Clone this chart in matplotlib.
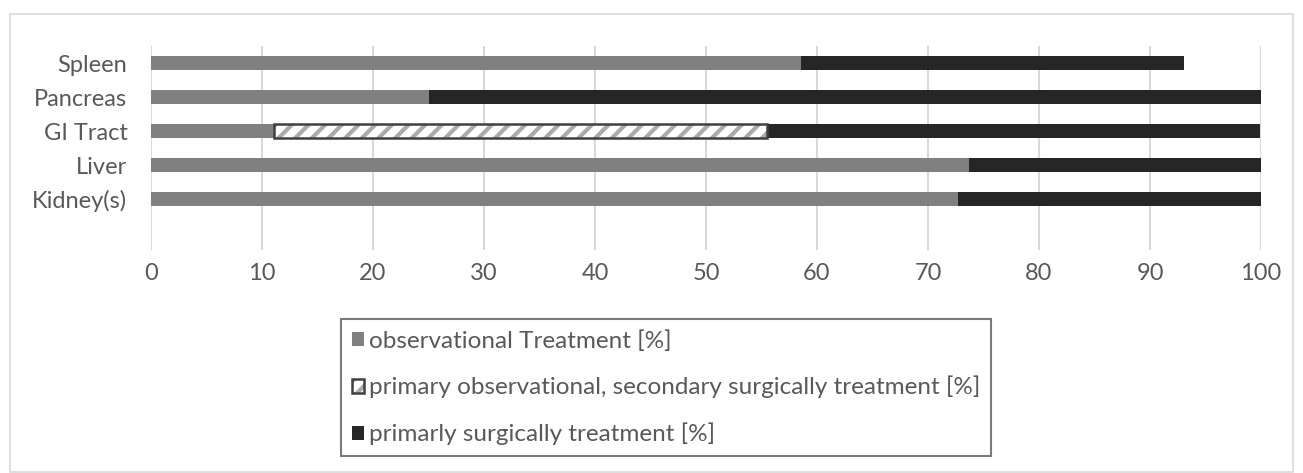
import matplotlib
matplotlib.use("Agg")
import matplotlib.pyplot as plt
from matplotlib.patches import Rectangle, Patch
from matplotlib.legend_handler import HandlerTuple

plt.rcParams['font.family'] = ['Lato', 'DejaVu Sans']
plt.rcParams['hatch.linewidth'] = 3.0

organs = ["Kidney(s)", "Liver", "GI Tract", "Pancreas", "Spleen"]
observational = [72.7, 73.7, 11.1, 25.0, 58.6]
secondary_surgical = [0.0, 0.0, 44.4, 0.0, 0.0]
primary_surgical = [27.3, 26.3, 44.4, 75.0, 34.5]

labels = [
    "observational Treatment [%]",
    "primary observational, secondary surgically treatment [%]",
    "primarly surgically treatment [%]",
]
x_ticks = [0, 10, 20, 30, 40, 50, 60, 70, 80, 90, 100]

GRAY = '#808080'
DARK = '#262626'
TEXT = '#595959'
HATCH = '#ababab'
OUTLINE = '#404040'

W, H = 1303, 473
fig = plt.figure(figsize=(W / 100, H / 100), dpi=100)
ax = fig.add_axes([151 / W, 1 - 250 / H, (1261 - 151) / W, (250 - 46) / H])

y = list(range(len(organs)))
bar_h = 0.4
left2 = list(observational)
left3 = [a + b for a, b in zip(observational, secondary_surgical)]

ax.barh(y, observational, height=bar_h, color=GRAY, zorder=2)
# hatched fill (hatch takes the edge colour) plus a separate dark outline
b2 = ax.barh(y, secondary_surgical, left=left2, height=bar_h, facecolor='white',
             edgecolor=HATCH, linewidth=0, hatch='//', zorder=3)
b2o = ax.barh(y, secondary_surgical, left=left2, height=bar_h, fill=False,
              edgecolor=OUTLINE, linewidth=1.8, zorder=4)
ax.barh(y, primary_surgical, left=left3, height=bar_h, color=DARK, zorder=2)

# empty hatched segments are not drawn
for r1, r2, v in zip(b2, b2o, secondary_surgical):
    if v == 0:
        r1.set_visible(False)
        r2.set_visible(False)

ax.set_xlim(0, 100)
ax.set_ylim(-1.5, 4.5)
ax.set_xticks(x_ticks)
ax.set_yticks(y)
ax.set_yticklabels(organs)
ax.tick_params(axis='both', length=0, labelsize=17, colors=TEXT)
ax.tick_params(axis='y', pad=17)
ax.tick_params(axis='x', pad=9)
ax.xaxis.grid(True, color='#d9d9d9', linewidth=1.5, zorder=0)
ax.set_axisbelow(True)
for s in ax.spines.values():
    s.set_visible(False)

handles = [
    Patch(facecolor=GRAY, edgecolor='none'),
    (Patch(facecolor='white', edgecolor=HATCH, linewidth=0, hatch='//'),
     Patch(fill=False, edgecolor=OUTLINE, linewidth=1.8)),
    Patch(facecolor=DARK, edgecolor='none'),
]
leg = fig.legend(handles=handles, labels=labels,
                 handler_map={tuple: HandlerTuple(ndivide=1, pad=0)},
                 loc='upper left',
                 bbox_to_anchor=(341 / W, 1 - 319 / H),
                 fontsize=17.5, frameon=True, fancybox=False,
                 handlelength=0.5, handleheight=0.5, handletextpad=0.2,
                 labelspacing=1.0, borderpad=0.45, borderaxespad=0)
leg.get_frame().set_edgecolor(TEXT)
leg.get_frame().set_linewidth(1.5)
for t in leg.get_texts():
    t.set_color(TEXT)

# chart area border
fig.patches.append(Rectangle((10 / W, 1 / H), (1293 - 10) / W, (472 - 14) / H,
                             transform=fig.transFigure, fill=False,
                             edgecolor='#d9d9d9', linewidth=1.2))

fig.savefig("out.png", dpi=100)
